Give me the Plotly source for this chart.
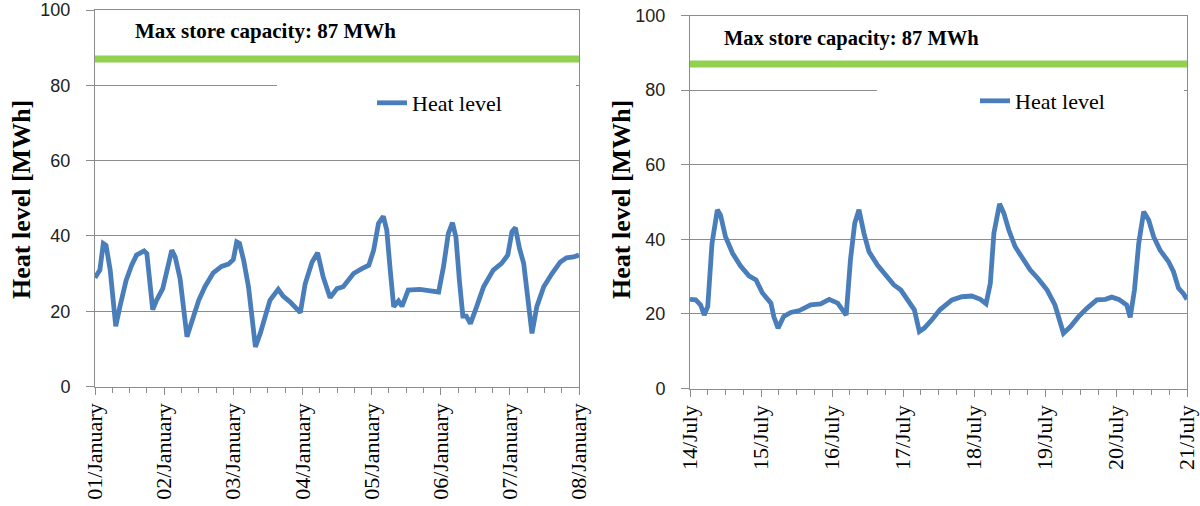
import plotly.graph_objects as go

# ---------------- data ----------------
CAPACITY = 87  # MWh

jan_days = [0.00, 0.07, 0.12, 0.16, 0.22, 0.30, 0.36, 0.45, 0.53, 0.60, 0.71, 0.75, 0.835, 0.89, 0.98,
            1.05, 1.11, 1.16, 1.23, 1.33, 1.40, 1.50, 1.59, 1.71, 1.83, 1.93,
            2.00, 2.05, 2.09, 2.15, 2.22, 2.27, 2.32, 2.39, 2.46, 2.53, 2.65, 2.72, 2.82, 2.97,
            3.04, 3.14, 3.22, 3.30, 3.40, 3.50, 3.59, 3.74, 3.86, 3.96,
            4.03, 4.10, 4.17, 4.22, 4.27, 4.32, 4.39, 4.44, 4.53, 4.70, 4.85, 4.97,
            5.04, 5.11, 5.17, 5.22, 5.27, 5.32, 5.37, 5.43, 5.52, 5.62, 5.76, 5.88, 5.97,
            6.03, 6.08, 6.14, 6.20, 6.27, 6.32, 6.39, 6.49, 6.61, 6.73, 6.82, 6.92, 7.00]
jan_heat = [28.9, 30.9, 38.0, 37.5, 30.9, 16.0, 21.2, 28.2, 32.2, 34.9, 36.0, 35.3, 20.4, 22.9, 26.0,
            30.9, 36.2, 34.4, 28.7, 13.2, 17.6, 22.9, 26.5, 30.2, 31.9, 32.5,
            33.7, 38.4, 38.0, 33.5, 26.5, 18.5, 10.5, 14.1, 18.1, 22.9, 25.8, 24.0, 22.5, 19.6,
            27.3, 33.1, 35.5, 29.1, 23.6, 26.0, 26.5, 30.0, 31.3, 32.2,
            36.2, 43.3, 45.2, 41.5, 30.9, 21.2, 22.7, 21.3, 25.6, 25.8, 25.4, 25.1,
            31.8, 40.6, 43.5, 39.7, 28.2, 18.7, 18.7, 16.7, 21.2, 26.5, 30.9, 32.7, 34.9,
            41.1, 42.2, 36.6, 32.7, 22.9, 14.1, 21.2, 26.5, 30.0, 33.1, 34.2, 34.4, 34.9]

jul_days = [0.00, 0.08, 0.15, 0.20, 0.25, 0.31, 0.385, 0.43, 0.50, 0.60, 0.71, 0.83, 0.93,
            1.02, 1.14, 1.18, 1.24, 1.32, 1.42, 1.54, 1.70, 1.84, 1.96,
            2.08, 2.20, 2.26, 2.32, 2.38, 2.45, 2.52, 2.64, 2.76, 2.87, 2.97,
            3.06, 3.16, 3.23, 3.30, 3.41, 3.52, 3.69, 3.83, 3.97,
            4.09, 4.17, 4.23, 4.28, 4.36, 4.42, 4.49, 4.58, 4.70, 4.79, 4.91,
            5.03, 5.14, 5.21, 5.26, 5.36, 5.47, 5.59, 5.73, 5.85, 5.94,
            6.04, 6.15, 6.20, 6.26, 6.32, 6.39, 6.46, 6.53, 6.62, 6.74, 6.81, 6.88, 6.95, 7.00]
jul_heat = [23.9, 23.75, 22.4, 19.7, 22.0, 38.9, 47.9, 46.5, 40.7, 36.25, 32.9, 30.2, 29.1,
            25.6, 22.9, 19.3, 16.2, 19.3, 20.4, 20.9, 22.4, 22.7, 23.9,
            22.9, 19.7, 34.5, 44.3, 47.9, 41.6, 36.7, 33.1, 30.4, 27.8, 26.4,
            23.75, 21.1, 15.3, 16.2, 18.5, 21.1, 23.75, 24.6, 24.8,
            23.9, 22.7, 28.2, 41.6, 49.5, 47.0, 42.5, 38.0, 34.5, 31.8, 29.3,
            26.4, 22.4, 17.5, 14.8, 16.6, 19.2, 21.5, 23.75, 23.9, 24.5,
            23.9, 22.4, 19.1, 26.4, 38.9, 47.4, 45.2, 40.7, 37.1, 34.0, 31.3, 26.9, 25.4, 23.9]

day_ticks = [0, 1, 2, 3, 4, 5, 6, 7]
jan_labels = ["01/January", "02/January", "03/January", "04/January",
              "05/January", "06/January", "07/January", "08/January"]
jul_labels = ["14/July", "15/July", "16/July", "17/July",
              "18/July", "19/July", "20/July", "21/July"]
y_ticks = [0, 20, 40, 60, 80, 100]

# ---------------- style ----------------
W, H = 1200, 506
BLUE = "#4a7ebb"
GREEN = "#92d050"
GRID = "#8c8c8c"
SERIF = "Liberation Serif, Times New Roman, serif"
SANS = "Liberation Sans, Arial, sans-serif"

fig = go.Figure()

panels = [
    dict(xa="x", ya="y", xd=[95 / W, 579 / W], yd=[1 - 386.5 / H, 1 - 10 / H],
         days=jan_days, heat=jan_heat, labels=jan_labels,
         legx=372 / W, legy=1 - 103 / H, tx=133 / W, ty=1 - 31 / H, tsize=21,
         titx=22 / W),
    dict(xa="x2", ya="y2", xd=[690 / W, 1187 / W], yd=[1 - 388.5 / H, 1 - 15.5 / H],
         days=jul_days, heat=jul_heat, labels=jul_labels,
         legx=975 / W, legy=1 - 101 / H, tx=722 / W, ty=1 - 38 / H, tsize=20.5,
         titx=622 / W),
]

layout_axes = {}
for i, p in enumerate(panels):
    suffix = "" if i == 0 else str(i + 1)
    # capacity line
    fig.add_trace(go.Scatter(x=[0, 7], y=[CAPACITY, CAPACITY], mode="lines",
                             line=dict(color=GREEN, width=7), showlegend=False,
                             hoverinfo="skip", xaxis=p["xa"], yaxis=p["ya"]))
    # heat level
    fig.add_trace(go.Scatter(x=p["days"], y=p["heat"], mode="lines", name="Heat level",
                             line=dict(color=BLUE, width=4.8), showlegend=False,
                             xaxis=p["xa"], yaxis=p["ya"]))
    layout_axes["xaxis" + suffix] = dict(
        domain=p["xd"], anchor=p["ya"], range=[0, 7],
        tickmode="array", tickvals=day_ticks, ticktext=p["labels"], tickangle=-90,
        ticks="outside", ticklen=7, tickcolor=GRID, tickwidth=1,
        minor=dict(tick0=0, dtick=0.25, ticks="outside", ticklen=5, tickcolor=GRID, showgrid=False),
        showline=True, linecolor=GRID, linewidth=1, mirror=True,
        showgrid=False, zeroline=False, automargin=False,
        tickfont=dict(family=SERIF, size=22, color="#000000"),
    )
    layout_axes["yaxis" + suffix] = dict(
        domain=p["yd"], anchor=p["xa"], range=[0, 100],
        tickmode="array", tickvals=y_ticks,
        ticks="outside", ticklen=8, tickcolor=GRID, ticklabelstandoff=12,
        showline=True, linecolor=GRID, linewidth=1, mirror=True,
        showgrid=True, gridcolor=GRID, gridwidth=1, zeroline=False, automargin=False,
        tickfont=dict(family=SANS, size=18, color="#222222"),
    )
    # white legend box of the original chart, which hides part of the 80 gridline
    fig.add_shape(type="rect", xref=p["xa"] + " domain", yref=p["ya"],
                  x0=0.376, x1=0.994, y0=77, y1=83, fillcolor="white",
                  line=dict(width=0), layer="above")
    # capacity annotation
    fig.add_annotation(text="<b>Max store capacity: 87 MWh</b>", xref="paper", yref="paper",
                       x=p["tx"], y=p["ty"], xanchor="left", yanchor="middle", showarrow=False,
                       font=dict(family=SERIF, size=p["tsize"], color="#000000"))
    # y axis title
    fig.add_annotation(text="<b>Heat level [MWh]</b>", xref="paper", yref="paper",
                       x=p["titx"], y=1 - 200 / H, xanchor="center", yanchor="middle",
                       textangle=-90, showarrow=False,
                       font=dict(family=SERIF, size=26, color="#000000"))

# legends: one legend entry per panel (separate legend boxes)
fig.data[1].update(showlegend=True, legend="legend")
fig.data[3].update(showlegend=True, legend="legend2")

legend_style = dict(font=dict(family=SERIF, size=22, color="#000000"), bgcolor="rgba(255,255,255,0)",
                    borderwidth=0, xanchor="left", yanchor="middle")

fig.update_layout(
    width=W, height=H, template="none",
    paper_bgcolor="white", plot_bgcolor="white",
    margin=dict(l=0, r=0, t=0, b=0),
    showlegend=True,
    legend=dict(x=panels[0]["legx"], y=panels[0]["legy"], **legend_style),
    legend2=dict(x=panels[1]["legx"], y=panels[1]["legy"], **legend_style),
    **layout_axes,
)

fig.write_html("out.html", config={"displayModeBar": False},
               post_script="document.body.style.margin='0';document.body.style.overflow='hidden';")
